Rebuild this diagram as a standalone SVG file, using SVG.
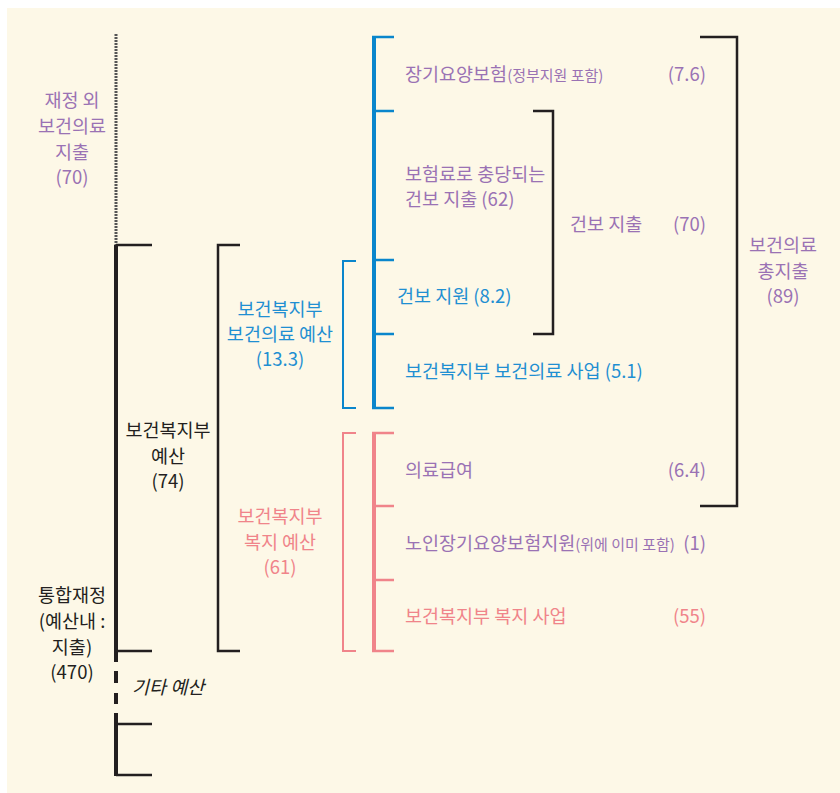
<svg xmlns="http://www.w3.org/2000/svg" width="840" height="793" viewBox="0 0 840 793">
<style>
text{font-family:"Noto Sans CJK KR","Noto Sans",sans-serif;font-size:18.5px}
.p{fill:#9a72b4}.b{fill:#1f8fd2}.k{fill:#231f20}.r{fill:#f0848a}
.s{font-size:15px}
.c{text-anchor:middle}.e{text-anchor:end}
.lk{stroke:#231f20;fill:none}.lb{stroke:#0a86cc;fill:none}.lr{stroke:#f0848a;fill:none}
</style>
<rect x="0" y="0" width="840" height="793" fill="#ffffff"/>
<rect x="7" y="8" width="833" height="785" fill="#fdf8e7"/>
<g id="connectors">
<line x1="116" y1="34" x2="116" y2="245" stroke="#555555" stroke-width="3" stroke-dasharray="2,1"/>
<path class="lk" d="M116,245V662M116,671V683M116,693V704M116,713V776" stroke-width="4"/>
<path class="lk" d="M116,245H152M116,651H152M116,724H152M116,775H152" stroke-width="2.5"/>
<path class="lk" d="M240,245H218V651H240" stroke-width="2.5"/>
<path class="lb" d="M356,261H343V408H356" stroke-width="2"/>
<path class="lb" d="M374,37V408" stroke-width="4"/>
<path class="lb" d="M372,37H394M372,111H394M372,260H394M372,334H394M372,408H394" stroke-width="2.5"/>
<path class="lr" d="M356,433H343V651H356" stroke-width="2"/>
<path class="lr" d="M374,433V651" stroke-width="4"/>
<path class="lr" d="M372,433H394M372,506H394M372,580H394M372,651H394" stroke-width="2.5"/>
<path class="lk" d="M533,111H553V334H533" stroke-width="2.5"/>
<path class="lk" d="M700,37H737V506H700" stroke-width="2.5"/>
</g>
<g id="n-outside">
<text class="p c" x="72" y="107">재정 외</text>
<text class="p c" x="72" y="133">보건의료</text>
<text class="p c" x="72" y="159">지출</text>
<text class="p c" x="72" y="184">(70)</text>
</g>
<g id="n-integrated">
<text class="k c" x="72" y="602">통합재정</text>
<text class="k c" x="72" y="628">(예산내 :</text>
<text class="k c" x="72" y="654">지출)</text>
<text class="k c" x="72" y="679">(470)</text>
</g>
<g id="n-other">
<text class="k" x="132" y="694" font-style="italic">기타 예산</text>
</g>
<g id="n-mohw">
<text class="k c" x="168" y="437">보건복지부</text>
<text class="k c" x="168" y="463">예산</text>
<text class="k c" x="168" y="488">(74)</text>
</g>
<g id="n-health-budget">
<text class="b c" x="280" y="316">보건복지부</text>
<text class="b c" x="280" y="341">보건의료 예산</text>
<text class="b c" x="280" y="366">(13.3)</text>
</g>
<g id="n-welfare-budget">
<text class="r c" x="280" y="523">보건복지부</text>
<text class="r c" x="280" y="549">복지 예산</text>
<text class="r c" x="280" y="574">(61)</text>
</g>
<g id="n-ltc">
<text class="p" x="405" y="81">장기요양보험<tspan class="s">(정부지원 포함)</tspan></text>
<text class="p e" x="706" y="81">(7.6)</text>
</g>
<g id="n-premium">
<text class="p" x="405" y="181">보험료로 충당되는</text>
<text class="p" x="405" y="206">건보 지출 (62)</text>
</g>
<g id="n-nhi-spend">
<text class="p" x="570" y="231">건보 지출</text>
<text class="p e" x="706" y="231">(70)</text>
</g>
<g id="n-total">
<text class="p c" x="783" y="252">보건의료</text>
<text class="p c" x="783" y="278">총지출</text>
<text class="p c" x="783" y="303">(89)</text>
</g>
<g id="n-nhi-support">
<text class="b" x="397" y="303">건보 지원 (8.2)</text>
</g>
<g id="n-health-project">
<text class="b" x="405" y="378">보건복지부 보건의료 사업 (5.1)</text>
</g>
<g id="n-medicaid">
<text class="p" x="405" y="477">의료급여</text>
<text class="p e" x="706" y="477">(6.4)</text>
</g>
<g id="n-elder">
<text class="p" x="405" y="550">노인장기요양보험지원<tspan class="s">(위에 이미 포함)</tspan></text>
<text class="p e" x="706" y="550">(1)</text>
</g>
<g id="n-welfare-project">
<text class="r" x="405" y="623">보건복지부 복지 사업</text>
<text class="r e" x="706" y="623">(55)</text>
</g>
</svg>
